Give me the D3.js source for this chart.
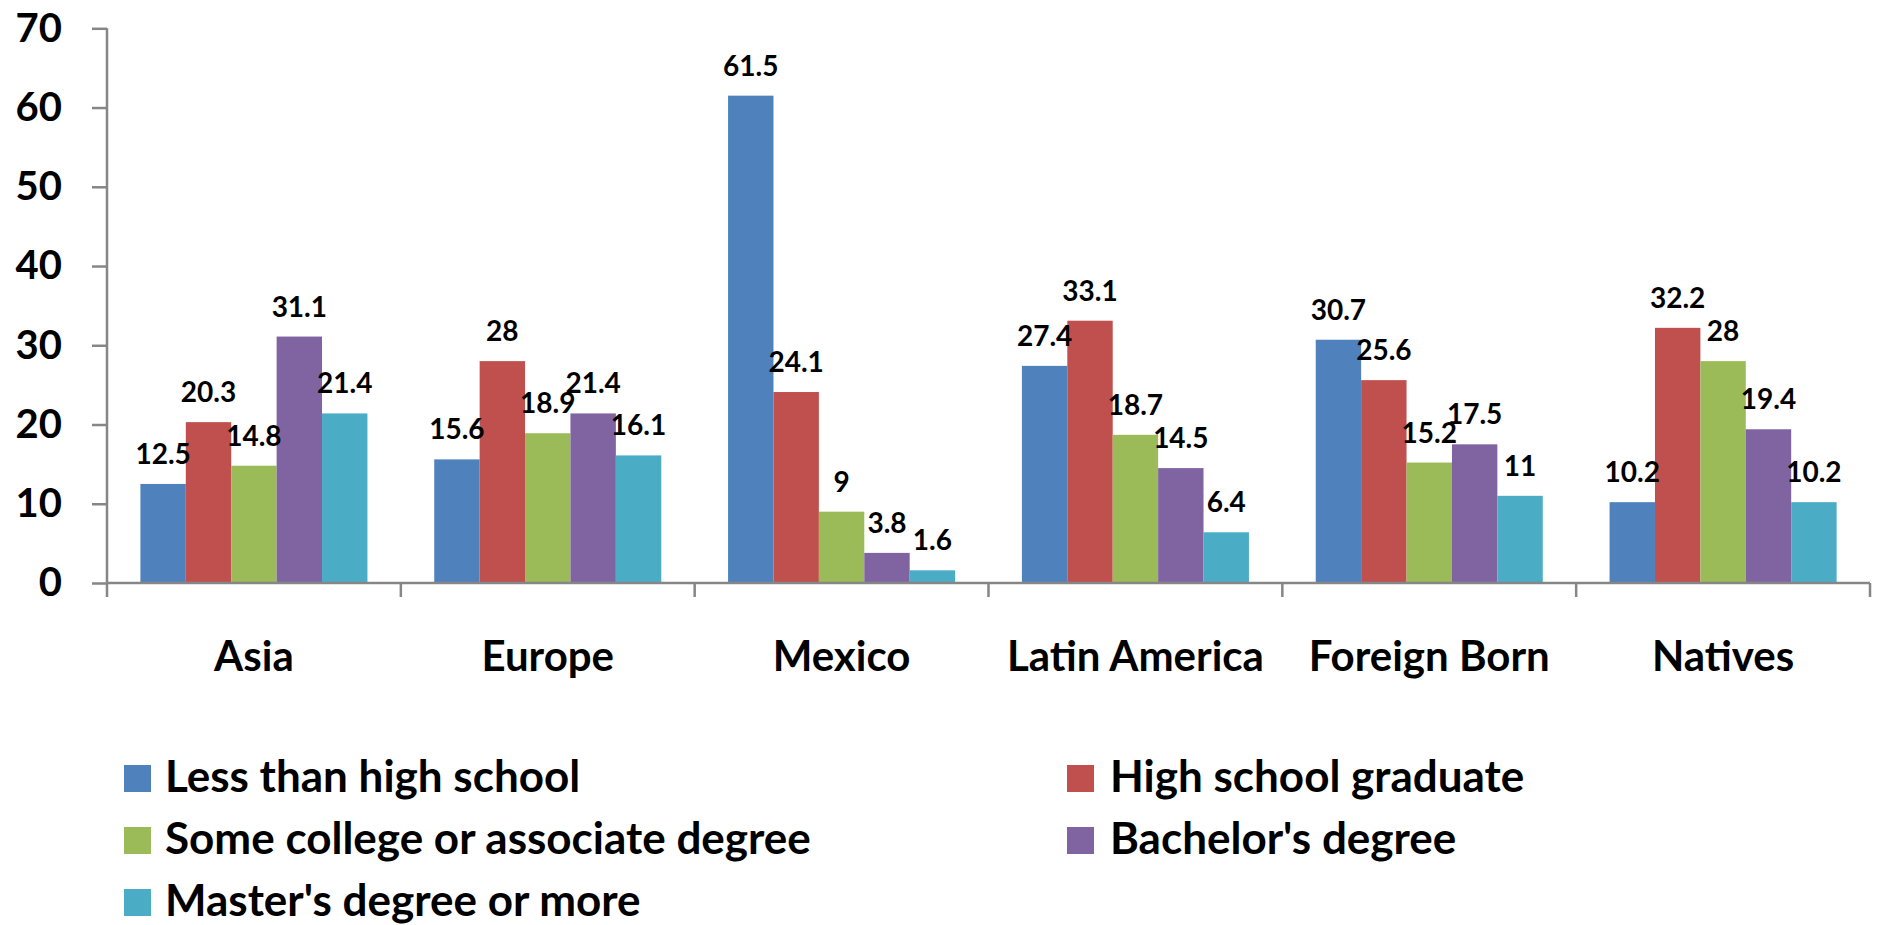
<!DOCTYPE html>
<html>
<head>
<meta charset="utf-8">
<script src="https://cdn.jsdelivr.net/npm/d3@7"></script>
<style>
  body { margin: 0; background: #fff; }
  text { font-family: Lato, "Open Sans", sans-serif; font-weight: bold; fill: #000; }
</style>
</head>
<body>
<script>
// chart data
var categories = ["Asia", "Europe", "Mexico", "Latin America", "Foreign Born", "Natives"];
var seriesNames = ["Less than high school", "High school graduate", "Some college or associate degree",
                   "Bachelor's degree", "Master's degree or more"];
var lessThanHS  = [12.5, 15.6, 61.5, 27.4, 30.7, 10.2];
var hsGraduate  = [20.3, 28, 24.1, 33.1, 25.6, 32.2];
var someCollege = [14.8, 18.9, 9, 18.7, 15.2, 28];
var bachelors   = [31.1, 21.4, 3.8, 14.5, 17.5, 19.4];
var masters     = [21.4, 16.1, 1.6, 6.4, 11, 10.2];
var yTicks = [0, 10, 20, 30, 40, 50, 60, 70];

var series = [lessThanHS, hsGraduate, someCollege, bachelors, masters];
var colors = ["#4F81BD", "#C0504D", "#9BBB59", "#8064A2", "#4BACC6"];

var W = 1877, H = 925;
var svg = d3.select("body").append("svg").attr("width", W).attr("height", H);

var x0 = d3.scaleBand().domain(categories).range([107, 1870]);
var groupPad = 33.4;
var x1 = d3.scaleBand().domain(d3.range(series.length))
    .range([groupPad, x0.bandwidth() - groupPad]);
var y = d3.scaleLinear().domain([0, 70]).range([583, 28.3]);

// y axis
var yAxis = svg.append("g").attr("transform", "translate(107,0)")
    .call(d3.axisLeft(y).tickValues(yTicks).tickSize(15).tickPadding(30));
yAxis.select(".domain").remove();
yAxis.selectAll("line").attr("stroke", "#868686").attr("stroke-width", 2.5);
yAxis.selectAll("text").style("font-size", "40px").attr("fill", "#000");
svg.append("line").attr("x1", 107).attr("x2", 107).attr("y1", y(70)).attr("y2", 597)
    .attr("stroke", "#868686").attr("stroke-width", 2.5);

// bars
var groups = svg.selectAll("g.cat").data(categories).enter().append("g")
    .attr("class", "cat")
    .attr("transform", function(d) { return "translate(" + x0(d) + ",0)"; });

groups.selectAll("rect").data(function(d, i) {
    return series.map(function(s, j) { return {j: j, v: s[i]}; });
}).enter().append("rect")
    .attr("x", function(d) { return x1(d.j); })
    .attr("width", x1.bandwidth())
    .attr("y", function(d) { return y(d.v); })
    .attr("height", function(d) { return y(0) - y(d.v); })
    .attr("fill", function(d) { return colors[d.j]; });

groups.selectAll("text.val").data(function(d, i) {
    return series.map(function(s, j) { return {j: j, v: s[i]}; });
}).enter().append("text")
    .attr("class", "val")
    .attr("x", function(d) { return x1(d.j) + x1.bandwidth() / 2; })
    .attr("y", function(d) { return y(d.v) - 20; })
    .attr("text-anchor", "middle")
    .style("font-size", "28px")
    .text(function(d) { return d.v; });

// x axis
var xAxisY = y(0);
svg.append("line").attr("x1", 107).attr("x2", 1870).attr("y1", xAxisY).attr("y2", xAxisY)
    .attr("stroke", "#868686").attr("stroke-width", 2.5);
svg.selectAll("line.sep").data(categories).enter().append("line")
    .attr("class", "sep")
    .attr("x1", function(d) { return x0(d) + x0.bandwidth(); })
    .attr("x2", function(d) { return x0(d) + x0.bandwidth(); })
    .attr("y1", xAxisY).attr("y2", 597)
    .attr("stroke", "#868686").attr("stroke-width", 2.5);
svg.selectAll("text.cat").data(categories).enter().append("text")
    .attr("class", "cat")
    .attr("x", function(d) { return x0(d) + x0.bandwidth() / 2; })
    .attr("y", 671)
    .attr("text-anchor", "middle")
    .style("font-size", "42px")
    .text(function(d) { return d; });

// legend
var legendX = [124, 1067], legendTextX = [165, 1110];
var legend = svg.selectAll("g.leg").data(seriesNames).enter().append("g")
    .attr("class", "leg")
    .attr("transform", function(d, i) {
        return "translate(" + legendX[i % 2] + "," + (765 + Math.floor(i / 2) * 62) + ")";
    });
legend.append("rect").attr("width", 27).attr("height", 27)
    .attr("fill", function(d, i) { return colors[i]; });
legend.append("text")
    .attr("x", function(d, i) { return legendTextX[i % 2] - legendX[i % 2]; })
    .attr("y", 27)
    .style("font-size", "44px")
    .text(function(d) { return d; });
</script>
</body>
</html>
